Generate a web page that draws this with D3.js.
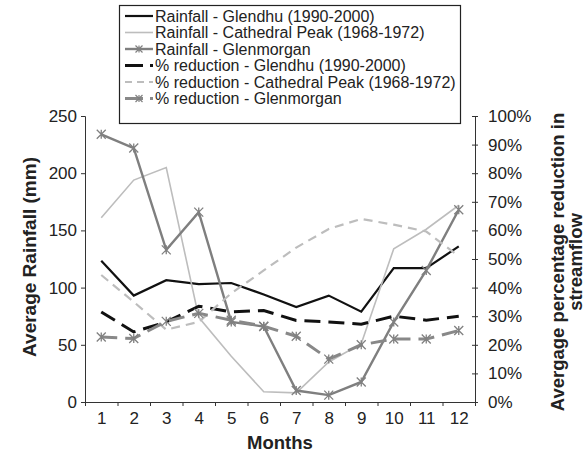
<!DOCTYPE html>
<html>
<head>
<meta charset="utf-8">
<script src="https://cdn.jsdelivr.net/npm/d3@7"></script>
<style>
  body { margin: 0; background: #fff; }
  * { font-family: "Liberation Sans", Arial, sans-serif; }
  .tick text { font-size: 17px; fill: #222; }
  .title { font-size: 18.5px; font-weight: bold; fill: #222; }
  .leg { font-size: 16px; fill: #222; }
</style>
</head>
<body>
<svg width="587" height="454"></svg>
<script>
// values
var months = [1, 2, 3, 4, 5, 6, 7, 8, 9, 10, 11, 12];
var rainGlendhu    = [123.5, 93, 106.5, 103, 104, 94, 83, 93, 79, 117, 117, 136];
var rainCathedral  = [161, 194, 205, 74, 40, 9, 8, 35, 51, 134, 151, 172];
var rainGlenmorgan = [234, 222, 133, 166, 70, 66, 10, 6, 17.5, 70, 115, 168];
var pctGlendhu     = [31.5, 24.5, 28, 33.5, 31.5, 32, 28.5, 28, 27.2, 30, 28.6, 30];
var pctCathedral   = [44.4, 35, 25.3, 28, 38, 46, 54, 60.5, 64, 62, 59.6, 51];
var pctGlenmorgan  = [22.7, 22.2, 28.2, 31, 28.6, 26.5, 23, 15, 20, 22, 22, 25];
var leftTicks = [0, 50, 100, 150, 200, 250];
var rightTicks = [0, 10, 20, 30, 40, 50, 60, 70, 80, 90, 100];

var svg = d3.select("svg");
var x = d3.scaleLinear().domain([0.5, 12.5]).range([85, 475]);
var yL = d3.scaleLinear().domain([0, 250]).range([402, 116]);
var yR = d3.scaleLinear().domain([0, 100]).range([402, 116]);

// axes
var axL = svg.append("g").attr("transform", "translate(85,0)")
  .call(d3.axisLeft(yL).tickValues(leftTicks).tickSize(4).tickPadding(4));
var axR = svg.append("g").attr("transform", "translate(475,0)")
  .call(d3.axisRight(yR).tickValues(rightTicks).tickSize(3).tickPadding(10)
    .tickFormat(function(d) { return d + "%"; }));
axR.selectAll(".tick line").attr("x1", -3);
svg.append("g").attr("transform", "translate(0,402)")
  .call(d3.axisBottom(x).tickValues(d3.range(0.5, 13, 1)).tickSize(4).tickFormat(""));
svg.append("g").attr("transform", "translate(0,402)")
  .call(d3.axisBottom(x).tickValues(months).tickSize(0).tickPadding(10))
  .select(".domain").remove();
svg.selectAll(".domain, .tick line").attr("stroke", "#333");

svg.append("text").attr("class", "title").style("font-size", "19px")
  .attr("transform", "translate(36,257)rotate(-90)")
  .attr("text-anchor", "middle").text("Average Rainfall (mm)");
svg.append("text").attr("class", "title")
  .attr("transform", "translate(564,262)rotate(-90)")
  .attr("text-anchor", "middle").text("Avergage percentage reduction in");
svg.append("text").attr("class", "title")
  .attr("transform", "translate(582,262)rotate(-90)")
  .attr("text-anchor", "middle").text("streamflow");
svg.append("text").attr("class", "title")
  .attr("x", 280).attr("y", 449).attr("text-anchor", "middle").text("Months");

function star(cx, cy, r) {
  var p = d3.path();
  p.moveTo(cx - r, cy - r); p.lineTo(cx + r, cy + r);
  p.moveTo(cx - r, cy + r); p.lineTo(cx + r, cy - r);
  p.moveTo(cx, cy - r); p.lineTo(cx, cy + r);
  return p.toString();
}

var series = [
  {name: "Rainfall - Glendhu (1990-2000)", vals: rainGlendhu, y: yL, color: "#111", w: 2.2, dash: null, mark: false},
  {name: "Rainfall - Cathedral Peak (1968-1972)", vals: rainCathedral, y: yL, color: "#bdbdbd", w: 1.6, dash: null, mark: false},
  {name: "Rainfall - Glenmorgan", vals: rainGlenmorgan, y: yL, color: "#7f7f7f", w: 2.4, dash: null, mark: true},
  {name: "% reduction - Glendhu (1990-2000)", vals: pctGlendhu, y: yR, color: "#111", w: 3, dash: "16,8", mark: false},
  {name: "% reduction - Cathedral Peak (1968-1972)", vals: pctCathedral, y: yR, color: "#bdbdbd", w: 2.2, dash: "9,6", mark: false},
  {name: "% reduction - Glenmorgan", vals: pctGlenmorgan, y: yR, color: "#888", w: 3, dash: "16,8", mark: true}
];

series.forEach(function(s) {
  var line = d3.line().x(function(d, i) { return x(months[i]); }).y(function(d) { return s.y(d); });
  svg.append("path").attr("d", line(s.vals)).attr("fill", "none")
    .attr("stroke", s.color).attr("stroke-width", s.w)
    .attr("stroke-dasharray", s.dash);
  if (s.mark) {
    svg.append("g").selectAll("path").data(s.vals).enter().append("path")
      .attr("d", function(d, i) { return star(x(months[i]), s.y(d), 4.5); })
      .attr("stroke", "#808080").attr("stroke-width", 1.3).attr("fill", "none");
  }
});

// legend
var leg = svg.append("g");
leg.append("rect").attr("x", 119.5).attr("y", 5.5).attr("width", 341).attr("height", 118)
  .attr("fill", "#fff").attr("stroke", "#222").attr("stroke-width", 1.2);
series.forEach(function(s, i) {
  var yy = 16 + i * 16.5;
  leg.append("line").attr("x1", 125).attr("x2", 153).attr("y1", yy).attr("y2", yy)
    .attr("stroke", s.color).attr("stroke-width", s.w).attr("stroke-dasharray", s.dash ? (s.dash === "9,6" ? "7,5" : "18,7") : null);
  if (s.mark) {
    leg.append("path").attr("d", star(139, yy, 3.5))
      .attr("stroke", "#808080").attr("stroke-width", 1.2).attr("fill", "none");
  }
  leg.append("text").attr("class", "leg").attr("x", 155).attr("y", yy).attr("dy", "0.35em").text(s.name);
});
</script>
</body>
</html>
